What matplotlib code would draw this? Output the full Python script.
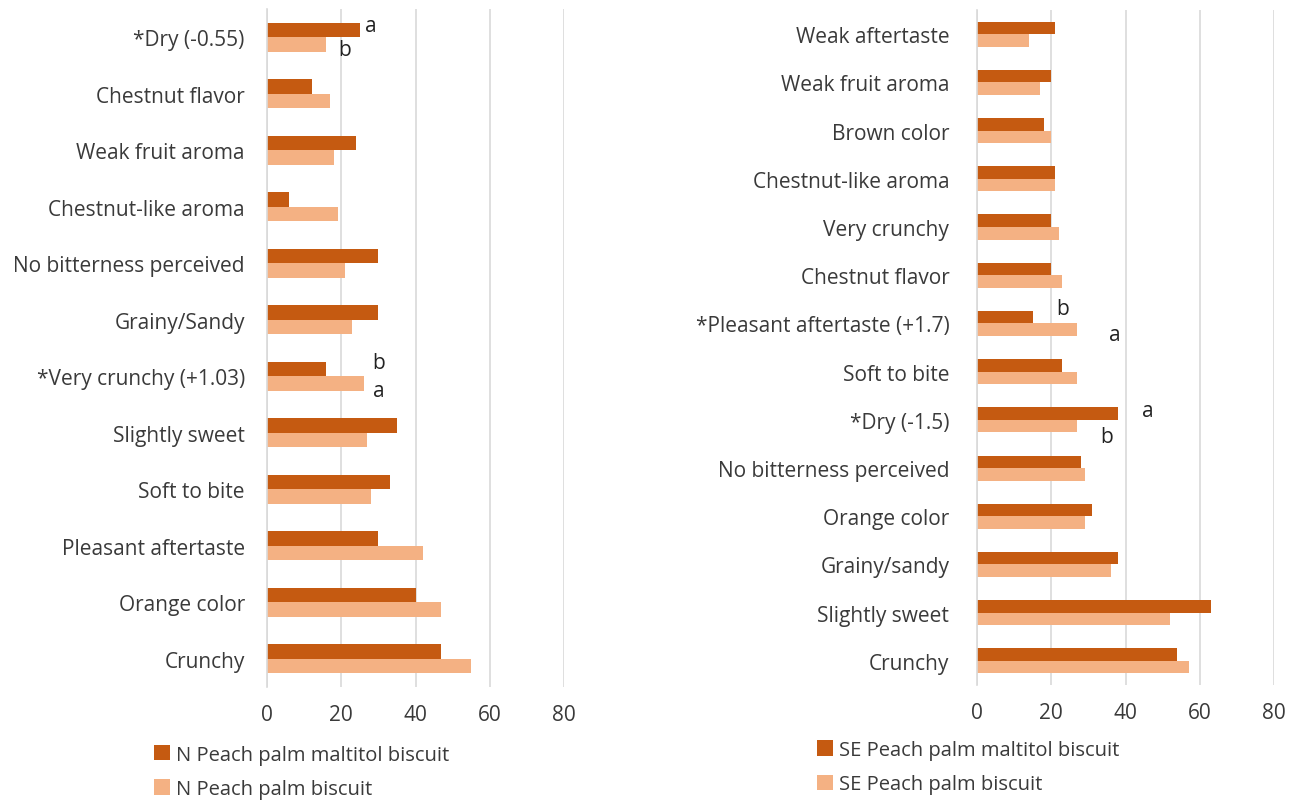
import numpy as np
import matplotlib.pyplot as plt

plt.rcParams['font.family'] = ['Open Sans', 'DejaVu Sans']

DARK = '#C55A11'
LIGHT = '#F4B183'
TEXT = '#3a3a3a'
GRID = '#D9D9D9'
FS = 15

# North region panel (top to bottom)
n_labels = ['*Dry (-0.55)', 'Chestnut flavor', 'Weak fruit aroma', 'Chestnut-like aroma',
            'No bitterness perceived', 'Grainy/Sandy', '*Very crunchy (+1.03)',
            'Slightly sweet', 'Soft to bite', 'Pleasant aftertaste', 'Orange color', 'Crunchy']
n_maltitol = [25, 12, 24, 6, 30, 30, 16, 35, 33, 30, 40, 47]
n_plain = [16, 17, 18, 19, 21, 23, 26, 27, 28, 42, 47, 55]

# South-east region panel (top to bottom)
se_labels = ['Weak aftertaste', 'Weak fruit aroma', 'Brown color', 'Chestnut-like aroma',
             'Very crunchy', 'Chestnut flavor', '*Pleasant aftertaste (+1.7)', 'Soft to bite',
             '*Dry (-1.5)', 'No bitterness perceived', 'Orange color', 'Grainy/sandy',
             'Slightly sweet', 'Crunchy']
se_maltitol = [21, 20, 18, 21, 20, 20, 15, 23, 38, 28, 31, 38, 63, 54]
se_plain = [14, 17, 20, 21, 22, 23, 27, 27, 27, 29, 29, 36, 52, 57]

# significance letters: (category, x, y offset in category units, letter)
n_letters = [('*Dry (-0.55)', 28, -0.2, 'a'), ('*Dry (-0.55)', 21, 0.22, 'b'),
             ('*Very crunchy (+1.03)', 30, -0.24, 'b'), ('*Very crunchy (+1.03)', 30, 0.25, 'a')]
se_letters = [('*Pleasant aftertaste (+1.7)', 23, -0.3, 'b'),
              ('*Pleasant aftertaste (+1.7)', 37, 0.22, 'a'),
              ('*Dry (-1.5)', 46, -0.2, 'a'), ('*Dry (-1.5)', 35, 0.34, 'b')]

fig = plt.figure(figsize=(12.9, 8.03), dpi=100)


def panel(rect, labels, dark, light, letters, names, legend_xy, pad):
    ax = fig.add_axes(rect)
    y = np.arange(len(labels))
    h = 0.26
    b1 = ax.barh(y - h / 2, dark, height=h, color=DARK, label=names[0])
    b2 = ax.barh(y + h / 2, light, height=h, color=LIGHT, label=names[1])
    ax.set_yticks(y)
    ax.set_yticklabels(labels)
    ax.set_ylim(len(labels) - 0.5, -0.5)
    ax.set_xlim(0, 80)
    ax.set_xticks([0, 20, 40, 60, 80])
    ax.tick_params(length=0, labelsize=FS, colors=TEXT)
    ax.tick_params(axis='y', pad=pad)
    ax.tick_params(axis='x', pad=12)
    ax.grid(axis='x', color=GRID, linewidth=1.2)
    ax.set_axisbelow(True)
    for s in ['top', 'right', 'bottom']:
        ax.spines[s].set_visible(False)
    ax.spines['left'].set_color(GRID)
    ax.spines['left'].set_linewidth(1.2)
    for cat, xv, off, letter in letters:
        ax.text(xv, labels.index(cat) + off, letter, fontsize=FS, color='#222222',
                ha='center', va='center')
    fig.legend(handles=[b1, b2], loc='upper left', bbox_to_anchor=legend_xy,
               frameon=False, fontsize=14.5, labelcolor=TEXT, handlelength=0.8,
               handleheight=0.8, handletextpad=0.3, labelspacing=0.72)
    return ax


panel([0.207, 0.1432, 0.2302, 0.8443], n_labels, n_maltitol, n_plain, n_letters,
      ['N Peach palm maltitol biscuit', 'N Peach palm biscuit'], (0.105, 0.094), 16)
panel([0.7574, 0.1457, 0.2302, 0.8406], se_labels, se_maltitol, se_plain, se_letters,
      ['SE Peach palm maltitol biscuit', 'SE Peach palm biscuit'], (0.619, 0.100), 20)

fig.savefig('out.png', dpi=100, facecolor='white')
